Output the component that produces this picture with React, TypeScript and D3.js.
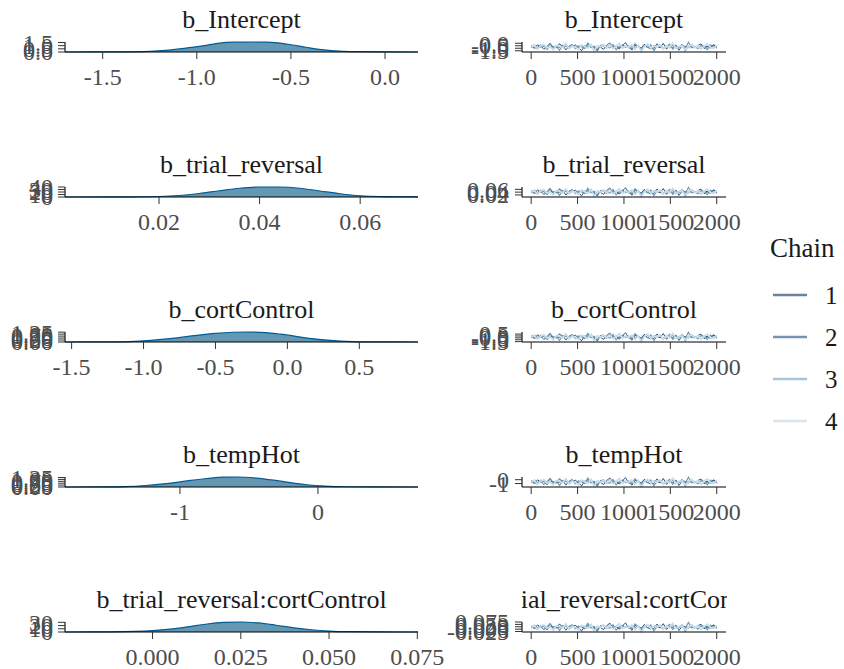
import React, { useLayoutEffect } from "react";
import * as d3 from "d3";

// parameter names (one row each)
const params = [
  "b_Intercept",
  "b_trial_reversal",
  "b_cortControl",
  "b_tempHot",
  "b_trial_reversal:cortControl",
];

// posterior density (x grid, density)
const densInterceptX = [-1.7, -1.4, -1.25, -1.15, -1.05, -0.95, -0.88, -0.8, -0.72, -0.64, -0.57, -0.5, -0.42, -0.35, -0.27, -0.15, 0.0, 0.175];
const densInterceptY = [0, 0.02, 0.1, 0.3, 0.65, 1.05, 1.4, 1.55, 1.58, 1.56, 1.45, 1.15, 0.75, 0.42, 0.18, 0.05, 0.01, 0];

const densTrialX = [0.0013, 0.015, 0.02, 0.024, 0.028, 0.032, 0.036, 0.04, 0.044, 0.048, 0.052, 0.056, 0.06, 0.064, 0.0715];
const densTrialY = [0, 0.5, 2, 6, 14, 25, 35, 40, 40, 35, 24, 13, 5, 1.5, 0.1];

const densCortX = [-1.546, -1.3, -1.1, -0.95, -0.8, -0.65, -0.5, -0.38, -0.28, -0.15, -0.05, 0.05, 0.15, 0.3, 0.45, 0.6, 0.908];
const densCortY = [0, 0.01, 0.06, 0.2, 0.45, 0.8, 1.1, 1.24, 1.27, 1.2, 1.0, 0.75, 0.47, 0.2, 0.06, 0.015, 0];

const densHotX = [-1.833, -1.6, -1.4, -1.25, -1.1, -0.95, -0.8, -0.68, -0.58, -0.45, -0.32, -0.2, -0.08, 0.05, 0.2, 0.4, 0.725];
const densHotY = [0, 0.01, 0.06, 0.2, 0.45, 0.8, 1.12, 1.3, 1.32, 1.18, 0.9, 0.57, 0.3, 0.12, 0.03, 0.005, 0];

const densInterX = [-0.0248, -0.012, -0.005, 0.0, 0.005, 0.01, 0.015, 0.02, 0.025, 0.03, 0.035, 0.04, 0.045, 0.05, 0.056, 0.065, 0.0752];
const densInterY = [0, 0.5, 2, 4.5, 9, 16, 24, 30, 31, 28, 21, 13, 7, 3, 1, 0.2, 0];

const densX = [densInterceptX, densTrialX, densCortX, densHotX, densInterX];
const densY = [densInterceptY, densTrialY, densCortY, densHotY, densInterY];

const densXDomain = [[-1.7, 0.175], [0.0013, 0.0715], [-1.546, 0.908], [-1.833, 0.725], [-0.0248, 0.0752]];
const densXTicks = [[-1.5, -1.0, -0.5, 0.0], [0.02, 0.04, 0.06], [-1.5, -1.0, -0.5, 0.0, 0.5], [-1, 0], [0, 0.025, 0.05, 0.075]];
const densXFmt = [".1f", ".2f", ".1f", "d", ".3f"];
const densYTicks = [[0, 0.5, 1.0, 1.5], [0, 10, 20, 30, 40], [0, 0.25, 0.5, 0.75, 1.0, 1.25], [0, 0.25, 0.5, 0.75, 1.0, 1.25], [0, 10, 20, 30]];
const densYFmt = [".1f", "d", ".2f", ".2f", "d"];

// trace: standardized draws per chain (thinned), scaled by each parameter's mean / sd
const chain1Z = [0.3, -0.8, 1.2, -0.2, 0.9, -1.5, 0.4, 0.1, -0.6, 1.8, -0.3, 0.7, -1.1, 0.2, 1.0, -0.4, -2.1, 0.6, 0.0, 1.4, -0.9, 0.5, -0.2, -1.3, 0.8, 2.2, -0.5, 0.3, -0.7, 1.1, -0.1, 0.4, -1.8, 0.9, 0.2, -0.6, 1.5, -0.3, -1.0, 0.6, 0.1, -0.4, 1.9, -1.2, 0.3, 0.7, -0.8, -0.2, 1.3, -2.4, 0.5, 0.0, -0.5, 0.8, 1.6, -0.9, 0.2, -0.3, 1.0, -0.7];
const chain2Z = [-0.5, 1.1, -0.2, 0.6, -1.4, 0.3, 2.0, -0.8, 0.1, -0.3, 0.9, -1.7, 0.4, 1.2, -0.6, 0.0, 0.7, -1.0, 1.5, -0.4, 0.2, -2.3, 0.8, 0.3, -0.9, 1.3, -0.1, 0.5, -1.2, 0.6, 2.4, -0.7, 0.1, -0.5, 1.0, -1.5, 0.4, 0.9, -0.2, -0.8, 1.7, 0.0, -1.1, 0.6, 0.3, -0.4, 1.1, -1.9, 0.7, 0.2, -0.6, 1.4, -0.3, 0.5, -1.3, 0.8, 0.1, -0.7, 1.2, -0.1];
const chain3Z = [0.8, -0.3, -1.2, 1.0, 0.2, -0.7, 1.6, -0.1, 0.5, -1.9, 0.9, 0.3, -0.4, 1.3, -1.0, 0.6, 0.1, -0.8, 2.1, -0.5, 0.4, -1.4, 0.7, 1.1, -0.2, -0.6, 1.4, -1.6, 0.2, 0.9, -0.3, 0.5, -1.1, 1.8, 0.0, -0.9, 0.6, -0.4, 1.2, -2.0, 0.3, 0.8, -0.6, 0.1, 1.5, -1.3, 0.4, -0.2, 0.9, -0.8, 2.6, -0.5, 0.2, -1.0, 0.7, 0.3, -1.5, 1.1, -0.2, 0.4];
const chain4Z = [-0.2, 0.9, -1.1, 0.4, 1.3, -0.6, 0.1, -1.6, 0.8, 0.3, -0.4, 1.7, -0.9, 0.5, -0.1, -1.3, 1.0, 0.2, -0.7, 1.4, -2.2, 0.6, 0.0, 0.9, -0.5, 1.2, -1.0, 0.3, 1.8, -0.8, 0.4, -0.3, 1.1, -1.4, 0.7, -2.6, 0.2, 1.5, -0.6, 0.5, -0.2, 1.0, -1.2, 0.8, -0.4, 2.0, -0.9, 0.3, 0.6, -1.7, 0.1, 1.3, -0.5, 0.7, -1.1, 0.4, 1.6, -0.3, -0.8, 0.9];
const chainsZ = [chain1Z, chain2Z, chain3Z, chain4Z];

const traceMean = [-0.72, 0.041, -0.27, -0.6, 0.021];
const traceSd = [0.36, 0.013, 0.48, 0.48, 0.019];
const traceYDomain = [[-1.75, 0.25], [0.005, 0.077], [-1.6, 1.05], [-1.9, 0.7], [-0.03, 0.075]];
const traceYTicks = [[-1.5, -1.0, -0.5, 0.0], [0.02, 0.04, 0.06], [-1.5, -1.0, -0.5, 0.0, 0.5], [-1, 0], [-0.025, 0, 0.025, 0.05, 0.075]];
const traceYFmt = [".1f", ".2f", ".1f", "d", ".3f"];
const iterTicks = [0, 500, 1000, 1500, 2000];

const chainLabels = ["1", "2", "3", "4"];
const chainColors = ["#011f4b", "#03396c", "#6497b1", "#c9dcea"];
const chainWidths = [0.8, 0.8, 1.1, 1.8];
const legendColors = ["#6e82a0", "#7893b2", "#a8c4d9", "#d9e6f0"];

const locale = d3.formatLocale({ decimal: ".", thousands: ",", grouping: [3], currency: ["", ""], minus: "-" });

const W = 844;
const H = 669;
const font = "'Liberation Serif', 'DejaVu Serif', serif";
const tickCol = "#4d4d4d";

const App: React.FC = () => {
  useLayoutEffect(() => {
    document.body.style.margin = "0";
  }, []);

  const rowAxisY = (i: number) => 52 + i * 145;
  const panelH = 10;
  const dens = { left: 65, right: 418 };
  const trace = { left: 522, right: 726 };

  const xIter = d3.scaleLinear().domain([-99, 2100]).range([trace.left, trace.right]);

  return (
    <svg width={W} height={H} style={{ display: "block", background: "#fff" }} fontFamily={font}>
      <defs>
        {params.map((p, i) => (
          <React.Fragment key={p}>
            <clipPath id={`clipD${i}`}>
              <rect x={dens.left} y={rowAxisY(i) - 60} width={dens.right - dens.left} height={60} />
            </clipPath>
            <clipPath id={`clipT${i}`}>
              <rect x={trace.left} y={rowAxisY(i) - 60} width={trace.right - trace.left + 1} height={60} />
            </clipPath>
          </React.Fragment>
        ))}
      </defs>

      {params.map((p, i) => {
        const ay = rowAxisY(i);
        const top = ay - panelH;

        // density panel
        const x = d3.scaleLinear().domain(densXDomain[i]).range([dens.left, dens.right]);
        const y = d3.scaleLinear().domain([0, d3.max(densY[i]) as number]).range([ay, top]);
        const pts = densX[i].map((v, k) => [v, densY[i][k]] as [number, number]);
        const area = d3.area<[number, number]>()
          .x(d => x(d[0]))
          .y0(ay)
          .y1(d => y(d[1]))
          .curve(d3.curveMonotoneX);
        const line = d3.line<[number, number]>()
          .x(d => x(d[0]))
          .y(d => y(d[1]))
          .curve(d3.curveMonotoneX);
        const fx = locale.format(densXFmt[i]);
        const fy = locale.format(densYFmt[i]);

        // trace panel
        const ty = d3.scaleLinear().domain(traceYDomain[i]).range([ay, top]);
        const tfy = locale.format(traceYFmt[i]);

        return (
          <g key={p}>
            {/* density */}
            <text x={(dens.left + dens.right) / 2} y={ay - 24} textAnchor="middle" fontSize={26} fill="#1a1a1a" clipPath={`url(#clipD${i})`}>{p}</text>
            <path d={area(pts) || ""} fill="#6497b1" />
            <path d={line(pts) || ""} fill="none" stroke="#005b96" strokeWidth={1.2} />
            <line x1={dens.left} x2={dens.right} y1={ay} y2={ay} stroke="#000" strokeWidth={1.1} />
            <line x1={dens.left} x2={dens.left} y1={top} y2={ay} stroke="#000" strokeWidth={1.1} />
            {densXTicks[i].map(t => (
              <g key={t}>
                <line x1={x(t)} x2={x(t)} y1={ay} y2={ay + 7} stroke="#333" />
                <text x={x(t)} y={ay + 33} textAnchor="middle" fontSize={24} fill={tickCol}>{fx(t)}</text>
              </g>
            ))}
            {densYTicks[i].map(t => (
              <g key={t}>
                <line x1={dens.left - 7} x2={dens.left} y1={y(t)} y2={y(t)} stroke="#333" />
                <text x={dens.left - 12} y={y(t)} dy="0.35em" textAnchor="end" fontSize={24} fill={tickCol}>{fy(t)}</text>
              </g>
            ))}

            {/* trace */}
            <text x={(trace.left + trace.right) / 2} y={ay - 24} textAnchor="middle" fontSize={26} fill="#1a1a1a" clipPath={`url(#clipT${i})`}>{p}</text>
            {chainsZ.map((z, c) => {
              const xi = d3.scaleLinear().domain([0, z.length - 1]).range([1, 2000]);
              const tl = d3.line<number>()
                .x((_, k) => xIter(xi(k)))
                .y(v => ty(traceMean[i] + traceSd[i] * v));
              return <path key={c} d={tl(z) || ""} fill="none" stroke={chainColors[c]} strokeWidth={chainWidths[c]} />;
            })}
            <line x1={trace.left} x2={trace.right} y1={ay} y2={ay} stroke="#000" strokeWidth={1.1} />
            <line x1={trace.left} x2={trace.left} y1={top} y2={ay} stroke="#000" strokeWidth={1.1} />
            {iterTicks.map(t => (
              <g key={t}>
                <line x1={xIter(t)} x2={xIter(t)} y1={ay} y2={ay + 7} stroke="#333" />
                <text x={xIter(t)} y={ay + 33} textAnchor="middle" fontSize={24} fill={tickCol}>{t}</text>
              </g>
            ))}
            {traceYTicks[i].map(t => (
              <g key={t}>
                <line x1={trace.left - 7} x2={trace.left} y1={ty(t)} y2={ty(t)} stroke="#333" />
                <text x={trace.left - 13} y={ty(t)} dy="0.35em" textAnchor="end" fontSize={24} fill={tickCol}>{tfy(t)}</text>
              </g>
            ))}
          </g>
        );
      })}

      {/* legend */}
      <text x={770} y={257} fontSize={27} fill="#1a1a1a">Chain</text>
      {chainLabels.map((lab, c) => {
        const ly = 295 + c * 42;
        return (
          <g key={lab}>
            <line x1={773} x2={807} y1={ly} y2={ly} stroke={legendColors[c]} strokeWidth={2.5} />
            <text x={825} y={ly} dy="0.35em" fontSize={25} fill="#1a1a1a">{lab}</text>
          </g>
        );
      })}
    </svg>
  );
};

export default App;
